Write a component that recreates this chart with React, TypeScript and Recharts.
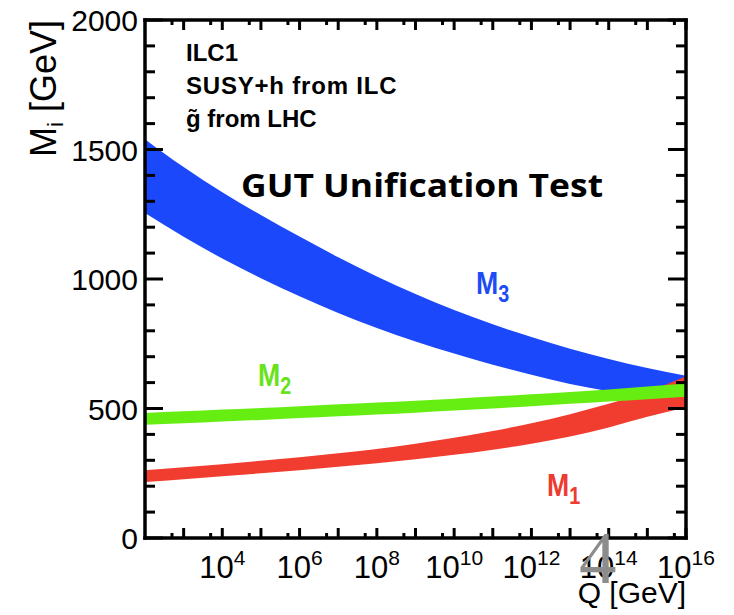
import React from 'react';
import { ComposedChart, Area, XAxis, YAxis } from 'recharts';

// Renormalisation scale Q in GeV (one point per decade)
const Q_GEV = [1e2, 1e3, 1e4, 1e5, 1e6, 1e7, 1e8, 1e9, 1e10, 1e11, 1e12, 1e13, 1e14, 1e15, 1e16];

// Gaugino mass bands M_i(Q) in GeV: lower and upper edges
const M3_LOW = [1255, 1163, 1079, 1003, 933, 869, 811, 759, 712, 669, 630, 595, 567, 547, 531];
const M3_HIGH = [1540, 1432, 1335, 1247, 1164, 1084, 1010, 942, 880, 825, 776, 731, 691, 656, 626];
const M2_LOW = [437, 443, 450, 456, 463, 470, 477, 484, 492, 500, 509, 518, 527, 536, 545];
const M2_HIGH = [483, 489, 496, 502, 509, 516, 523, 530, 538, 546, 555, 564, 573, 585, 597];
const M1_LOW = [216, 227, 238, 250, 262, 275, 289, 304, 321, 341, 364, 392, 427, 468, 505];
const M1_HIGH = [262, 273, 285, 298, 312, 327, 344, 364, 387, 413, 443, 478, 518, 565, 625];

// Axis ticks
const Y_TICKS = [0, 100, 200, 300, 400, 500, 600, 700, 800, 900, 1000, 1100, 1200, 1300, 1400, 1500, 1600, 1700, 1800, 1900, 2000];
const X_TICKS = [
  5e2, 1e3, 5e3, 1e4, 5e4, 1e5, 5e5, 1e6, 5e6, 1e7, 5e7, 1e8, 5e8, 1e9, 5e9, 1e10,
  5e10, 1e11, 5e11, 1e12, 5e12, 1e13, 5e13, 1e14, 5e14, 1e15, 5e15, 1e16,
];

const data = Q_GEV.map((q, i) => ({
  q,
  m3: [M3_LOW[i], M3_HIGH[i]],
  m2: [M2_LOW[i], M2_HIGH[i]],
  m1: [M1_LOW[i], M1_HIGH[i]],
}));

const SANS = 'Liberation Sans, Arial, Helvetica, sans-serif';
const FRAME = { stroke: '#000', strokeWidth: 3.5, strokeLinecap: 'square' as const };

const isMajorY = (v: number) => v % 500 === 0;
const decadeOf = (v: number) => {
  const e = Math.log10(v);
  const n = Math.round(e);
  return { n, decade: Math.abs(e - n) < 1e-6 };
};

const LeftTick = (props: any) => {
  const { x, y, payload } = props;
  const v = payload.value;
  const major = isMajorY(v);
  return (
    <g>
      <line x1={x} x2={x + (major ? 18 : 10)} y1={y} y2={y} stroke="#000" strokeWidth={3} />
      {major && (
        <text x={x - 7} y={y + 11} textAnchor="end" fontSize={30} fontFamily={SANS} fill="#000">
          {v}
        </text>
      )}
    </g>
  );
};

const RightTick = (props: any) => {
  const { x, y, payload } = props;
  const major = isMajorY(payload.value);
  return <line x1={x} x2={x - (major ? 18 : 10)} y1={y} y2={y} stroke="#000" strokeWidth={3} />;
};

const BottomTick = (props: any) => {
  const { x, y, payload } = props;
  const { n, decade } = decadeOf(payload.value);
  const len = decade ? 10 : 5;
  return (
    <g>
      <line x1={x} x2={x} y1={y} y2={y - len} stroke="#000" strokeWidth={3} />
      {decade && n % 2 === 0 && n >= 4 && (
        <text x={x} y={y + 40} textAnchor="middle" fontSize={31} fontFamily={SANS} fill="#000">
          10
          <tspan dy={-13} fontSize={21}>
            {n}
          </tspan>
        </text>
      )}
    </g>
  );
};

const TopTick = (props: any) => {
  const { x, y, payload } = props;
  const { decade } = decadeOf(payload.value);
  const len = decade ? 10 : 5;
  return <line x1={x} x2={x} y1={y} y2={y + len} stroke="#000" strokeWidth={3} />;
};

const BandLabel = ({ x, y, sub, color }: { x: number; y: number; sub: string; color: string }) => (
  <g transform={`translate(${x},${y}) scale(0.86,1)`}>
    <text x={0} y={0} fontSize={31} fontWeight="bold" fontFamily={SANS} fill={color}>
      M
      <tspan dy={8} fontSize={23}>
        {sub}
      </tspan>
    </text>
  </g>
);

export default function App() {
  return (
    <div style={{ position: 'absolute', left: 0, top: 0, width: 734, height: 615, background: '#fff' }}>
      <ComposedChart
        width={734}
        height={615}
        data={data}
        margin={{ top: 10, right: 38, bottom: 27, left: 45 }}
      >
        <Area
          dataKey="m3"
          type="monotone"
          stroke="none"
          fill="#1b48fb"
          fillOpacity={1}
          isAnimationActive={false}
        />
        <Area
          dataKey="m1"
          type="monotone"
          stroke="none"
          fill="#f13c30"
          fillOpacity={1}
          isAnimationActive={false}
        />
        <Area
          dataKey="m2"
          type="monotone"
          stroke="none"
          fill="#66ee12"
          fillOpacity={1}
          isAnimationActive={false}
        />
        <XAxis
          dataKey="q"
          type="number"
          scale="log"
          domain={[1e2, 1e16]}
          allowDataOverflow
          ticks={X_TICKS}
          interval={0}
          height={50}
          tickSize={0}
          tickMargin={0}
          tickLine={false}
          axisLine={FRAME}
          tick={<BottomTick />}
        />
        <XAxis
          xAxisId="top"
          orientation="top"
          dataKey="q"
          type="number"
          scale="log"
          domain={[1e2, 1e16]}
          allowDataOverflow
          ticks={X_TICKS}
          interval={0}
          height={10}
          tickSize={0}
          tickMargin={0}
          tickLine={false}
          axisLine={FRAME}
          tick={<TopTick />}
        />
        <YAxis
          type="number"
          domain={[0, 2000]}
          allowDataOverflow
          ticks={Y_TICKS}
          interval={0}
          width={100}
          tickSize={0}
          tickMargin={0}
          tickLine={false}
          axisLine={FRAME}
          tick={<LeftTick />}
        />
        <YAxis
          yAxisId="right"
          orientation="right"
          type="number"
          domain={[0, 2000]}
          allowDataOverflow
          ticks={Y_TICKS}
          interval={0}
          width={10}
          tickSize={0}
          tickMargin={0}
          tickLine={false}
          axisLine={FRAME}
          tick={<RightTick />}
        />
      </ComposedChart>
      <svg
        width={734}
        height={615}
        style={{ position: 'absolute', left: 0, top: 0, pointerEvents: 'none' }}
      >
        <g fontFamily={SANS} fontWeight="bold" fontSize={24} fill="#000">
          <text x={186} y={61}>ILC1</text>
          <text x={186} y={94} letterSpacing={0.8}>SUSY+h from ILC</text>
          <text x={186} y={127}>g̃ from LHC</text>
        </g>
        <text
          x={241}
          y={197}
          fontFamily="Open Sans, Lato, sans-serif"
          fontWeight="bold"
          fontSize={32}
          textLength={362}
          lengthAdjust="spacingAndGlyphs"
          fill="#000"
        >
          GUT Unification Test
        </text>
        <BandLabel x={476} y={294} sub="3" color="#1f4bf5" />
        <BandLabel x={258} y={386} sub="2" color="#68e21a" />
        <BandLabel x={547} y={496} sub="1" color="#ee3b2f" />
        <text transform="translate(56,157) rotate(-90)" fontFamily={SANS} fontSize={36} fill="#000">
          M
          <tspan dy={7} fontSize={22}>
            i
          </tspan>
          <tspan dy={-7} fontSize={36}>
            {' [GeV]'}
          </tspan>
        </text>
        <text x={686} y={603} textAnchor="end" fontFamily={SANS} fontSize={30} fill="#000">
          Q [GeV]
        </text>
        <text x={579} y={583} fontFamily="Liberation Serif, Times New Roman, serif" fontSize={75} fill="#8c8c8c">
          4
        </text>
      </svg>
    </div>
  );
}
